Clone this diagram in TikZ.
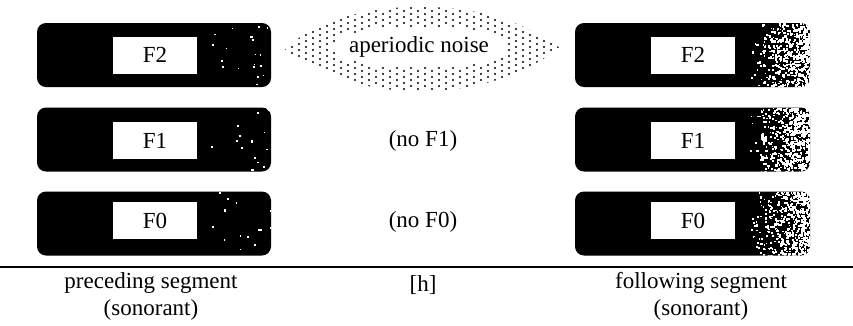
\documentclass[tikz,border=0pt]{standalone}
\usepackage{fontspec}
\setmainfont{Liberation Serif}
\newcommand\fsz{\fontsize{23}{27}\selectfont}
% #1 node, #2 x start, #3 width, #4 y top, #5 count, #6 exponent, #7 seed
\newcommand\barnoise[7]{%
  \begin{scope}
    \clip[rounded corners=9pt] (#1.south west) rectangle (#1.north east);
    \pgfmathsetseed{#7}
    \foreach \i in {1,...,#5}{%
      \pgfmathsetmacro\xx{#2+#3*(rnd^#6)}%
      \pgfmathsetmacro\yy{#4+64*rnd}%
      \pgfmathsetmacro\ss{1.1+1.4*rnd}%
      \fill[white] (\xx,\yy) rectangle ++(\ss,\ss);
    }
  \end{scope}}
\begin{document}
\begin{tikzpicture}[x=1pt,y=-1pt,
  bar/.style={fill=black, rounded corners=9pt, minimum width=234pt, minimum height=64pt, inner sep=0pt},
  lbl/.style={fill=white, minimum width=84pt, minimum height=37pt, inner sep=0pt, font=\fsz},
  txt/.style={inner sep=0pt, font=\fsz, align=center},
  noisedot/.style={fill=black}]
\useasboundingbox (0,0) rectangle (853,325);

% bars
\node[bar] (L2) at (154,55) {};
\node[bar] (L1) at (154,139.5) {};
\node[bar] (L0) at (154,223.5) {};
\node[bar, minimum width=235pt] (R2) at (692.5,55) {};
\node[bar, minimum width=235pt] (R1) at (692.5,139.5) {};
\node[bar, minimum width=235pt] (R0) at (692.5,223.5) {};

% speckle
\barnoise{L2}{200}{72}{23}{20}{0.6}{11}
\barnoise{L1}{200}{72}{107.5}{17}{0.6}{12}
\barnoise{L0}{200}{72}{191.5}{17}{0.6}{13}
\barnoise{R2}{746}{66}{23}{620}{0.42}{21}
\barnoise{R1}{746}{66}{107.5}{620}{0.42}{22}
\barnoise{R0}{746}{66}{191.5}{580}{0.42}{23}

% labels in bars
\node[lbl] (l2) at (155,55) {F2};
\node[lbl] (l1) at (155,140.5) {F1};
\node[lbl] (l0) at (155,220.5) {F0};
\node[lbl] (r2) at (693,55) {F2};
\node[lbl] (r1) at (693,140.5) {F1};
\node[lbl] (r0) at (693,220.5) {F0};

% aperiodic noise dotted lens
\begin{scope}
  \clip (283,48) .. controls (330,16) and (370,7) .. (420,7)
        .. controls (470,7) and (515,16) .. (560,48)
        .. controls (515,80) and (470,91) .. (420,91)
        .. controls (370,91) and (330,80) .. (283,48) -- cycle;
  \foreach \cx [count=\ci] in {285,292,...,560}{
    \foreach \cy in {5,11,...,95}{
      \pgfmathsetmacro\yy{\cy+3*mod(\ci,2)}
      \pgfmathparse{(((\cx-420)/89)^2+((\yy-47)/21)^2)>1 ? 1 : 0}
      \ifnum\pgfmathresult=1
        \fill[noisedot] (\cx,\yy) circle (1.1);
      \fi
    }
  }
\end{scope}
\node[txt] (ap) at (419,47) {aperiodic noise};
\node[txt] (n1) at (423,141) {(no F1)};
\node[txt] (n0) at (423,222) {(no F0)};

% baseline
\coordinate (ls) at (0,267);
\coordinate (le) at (853,267);
\draw[line width=2.4pt] (ls) -- (le);

% bottom labels
\node[txt] (pre) at (151,296) {preceding segment\\(sonorant)};
\node[txt] (hh) at (423,285) {[h]};
\node[txt] (fol) at (701,296) {following segment\\(sonorant)};
\end{tikzpicture}
\end{document}
